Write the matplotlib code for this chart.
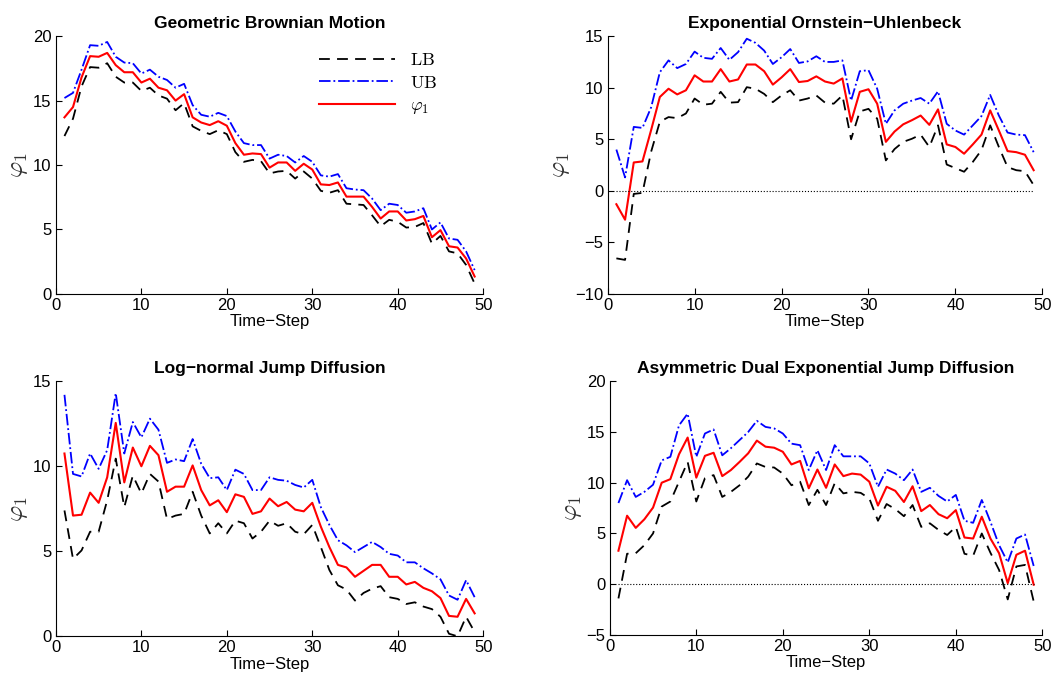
import matplotlib
matplotlib.use("Agg")
import matplotlib.pyplot as plt

plt.rcParams["font.family"] = ["Liberation Sans", "DejaVu Sans"]
plt.rcParams["mathtext.fontset"] = "cm"

steps = list(range(1, 50))

# Geometric Brownian Motion
gbm_lb = [12.25, 13.6, 16.1, 17.6, 17.55, 17.9, 16.85, 16.4, 16.4, 15.75, 16.0, 15.4, 15.15, 14.25,
          14.8, 13.0, 12.65, 12.4, 12.7, 12.4, 11.0, 10.25, 10.4, 10.3, 9.35, 9.5, 9.55, 8.95, 9.5,
          8.95, 8.0, 7.85, 8.05, 7.0, 6.95, 6.9, 6.1, 5.25, 5.75, 5.6, 5.15, 5.2, 5.5, 3.9, 4.5,
          3.3, 3.15, 2.25, 0.8]
gbm_ub = [15.2, 15.6, 17.4, 19.3, 19.25, 19.55, 18.4, 17.95, 17.9, 17.1, 17.4, 16.85, 16.6, 16.0,
          16.3, 14.65, 13.9, 13.75, 14.05, 13.8, 12.6, 11.7, 11.55, 11.55, 10.5, 10.8, 10.7, 10.2,
          10.7, 10.25, 9.2, 9.1, 9.3, 8.2, 8.1, 8.05, 7.4, 6.5, 7.0, 6.9, 6.3, 6.4, 6.65, 5.0, 5.55,
          4.3, 4.2, 3.3, 1.85]
gbm_phi = [13.7, 14.5, 16.8, 18.45, 18.4, 18.7, 17.75, 17.2, 17.2, 16.4, 16.7, 16.0, 15.8, 15.0,
           15.5, 13.7, 13.3, 13.1, 13.4, 13.05, 11.7, 10.8, 10.9, 10.85, 9.8, 10.2, 10.2, 9.55,
           10.1, 9.65, 8.5, 8.45, 8.65, 7.55, 7.55, 7.55, 6.75, 5.85, 6.4, 6.4, 5.7, 5.8, 6.05,
           4.4, 4.95, 3.7, 3.6, 2.75, 1.35]

# Exponential Ornstein-Uhlenbeck
eou_lb = [-6.55, -6.7, -0.3, -0.2, 3.8, 6.7, 7.15, 7.05, 7.5, 8.95, 8.35, 8.45, 9.6, 8.55, 8.6,
          10.05, 9.9, 9.4, 8.6, 9.25, 9.75, 8.75, 8.95, 9.25, 8.55, 8.45, 9.25, 5.0, 7.7, 7.95,
          7.0, 2.95, 4.05, 4.75, 5.05, 5.45, 4.25, 6.35, 2.55, 2.2, 1.85, 2.8, 3.95, 6.35, 4.25,
          2.3, 2.0, 1.9, 0.55]
eou_ub = [4.0, 1.3, 6.2, 6.1, 8.1, 11.5, 12.65, 11.9, 12.3, 13.5, 12.9, 12.8, 13.85, 12.7, 13.45,
          14.75, 14.35, 13.6, 12.3, 12.95, 13.75, 12.4, 12.55, 13.05, 12.5, 12.5, 12.65, 8.75,
          11.6, 11.7, 9.9, 6.5, 7.8, 8.45, 8.75, 9.0, 8.45, 9.65, 6.5, 5.85, 5.45, 6.35, 7.25, 9.3,
          7.3, 5.65, 5.45, 5.4, 3.75]
eou_phi = [-1.3, -2.8, 2.75, 2.85, 5.9, 9.1, 9.9, 9.35, 9.75, 11.2, 10.6, 10.6, 11.8, 10.6, 10.8,
           12.25, 12.25, 11.6, 10.3, 11.0, 11.8, 10.55, 10.65, 11.1, 10.6, 10.4, 10.9, 6.7, 9.6,
           9.85, 8.45, 4.75, 5.75, 6.45, 6.85, 7.3, 6.4, 7.9, 4.5, 4.25, 3.6, 4.5, 5.45, 7.8,
           5.85, 3.85, 3.75, 3.5, 2.0]

# Log-normal Jump Diffusion
ljd_lb = [7.4, 4.55, 5.05, 6.15, 6.15, 8.0, 10.45, 7.6, 9.45, 8.4, 9.55, 9.1, 6.9, 7.1, 7.2, 8.5,
          7.1, 6.05, 6.65, 6.05, 6.8, 6.65, 5.75, 6.15, 6.8, 6.5, 6.65, 6.15, 6.0, 6.55, 5.25,
          3.9, 3.0, 2.75, 2.1, 2.55, 2.8, 2.95, 2.3, 2.2, 1.9, 2.0, 1.75, 1.6, 1.15, 0.15, 0.0,
          1.15, 0.25]
ljd_ub = [14.2, 9.55, 9.4, 10.75, 9.85, 10.95, 14.3, 10.75, 12.6, 11.7, 12.8, 12.15, 10.2, 10.4,
          10.3, 11.6, 10.15, 9.3, 9.35, 8.6, 9.8, 9.55, 8.6, 8.6, 9.35, 9.2, 9.15, 8.9, 8.75, 9.2,
          7.6, 6.55, 5.65, 5.35, 4.95, 5.25, 5.55, 5.25, 4.85, 4.75, 4.35, 4.35, 4.0, 3.7, 3.35,
          2.4, 2.15, 3.3, 2.3]
ljd_phi = [10.75, 7.1, 7.15, 8.45, 7.85, 9.35, 12.55, 9.05, 11.1, 10.0, 11.2, 10.65, 8.5, 8.8,
           8.8, 10.05, 8.6, 7.7, 8.0, 7.3, 8.35, 8.2, 7.2, 7.35, 8.1, 7.65, 7.9, 7.45, 7.35, 7.85,
           6.45, 5.25, 4.2, 4.05, 3.5, 3.85, 4.2, 4.2, 3.5, 3.5, 3.05, 3.2, 2.85, 2.65, 2.25, 1.2,
           1.15, 2.2, 1.35]

# Asymmetric Dual Exponential Jump Diffusion
adj_lb = [-1.4, 3.0, 3.05, 3.85, 5.0, 7.65, 8.15, 10.1, 12.05, 8.15, 10.45, 10.75, 8.6, 9.1, 9.75,
          10.6, 11.9, 11.55, 11.5, 10.9, 9.75, 10.1, 7.8, 9.3, 7.8, 9.95, 8.95, 9.1, 9.0, 8.45,
          6.25, 7.9, 7.4, 6.7, 7.8, 5.65, 6.0, 5.35, 4.85, 5.65, 3.0, 2.8, 5.0, 3.1, 1.4, -1.5,
          1.75, 1.9, -1.7]
adj_ub = [8.0, 10.25, 8.6, 9.1, 9.8, 12.2, 12.55, 15.65, 16.8, 12.55, 14.85, 15.25, 12.7, 13.4,
          14.2, 15.0, 16.1, 15.5, 15.35, 14.85, 13.85, 13.7, 11.25, 13.2, 11.25, 13.7, 12.6, 12.6,
          12.6, 11.9, 9.6, 11.3, 10.9, 10.25, 11.3, 9.1, 9.5, 8.7, 8.15, 8.8, 6.25, 6.05, 8.3,
          6.15, 3.85, 2.15, 4.5, 4.9, 1.8]
adj_phi = [3.3, 6.75, 5.55, 6.4, 7.55, 10.0, 10.35, 12.8, 14.45, 10.5, 12.65, 12.95, 10.65, 11.25,
           12.05, 12.9, 14.15, 13.55, 13.45, 13.05, 11.8, 12.15, 9.45, 11.3, 9.5, 11.8, 10.65,
           10.9, 10.8, 10.1, 7.75, 9.6, 9.2, 8.1, 9.65, 7.2, 7.8, 6.9, 6.5, 7.3, 4.6, 4.5, 6.65,
           4.5, 3.05, 0.1, 2.9, 3.3, -0.05]

panels = [
    ("Geometric Brownian Motion", gbm_lb, gbm_ub, gbm_phi, (0, 20), False),
    ("Exponential Ornstein\u2212Uhlenbeck", eou_lb, eou_ub, eou_phi, (-10, 15), True),
    ("Log\u2212normal Jump Diffusion", ljd_lb, ljd_ub, ljd_phi, (0, 15), False),
    ("Asymmetric Dual Exponential Jump Diffusion", adj_lb, adj_ub, adj_phi, (-5, 20), True),
]

positions = [
    [0.053, 0.569, 0.405, 0.378],
    [0.576, 0.569, 0.412, 0.378],
    [0.053, 0.067, 0.405, 0.374],
    [0.578, 0.069, 0.410, 0.372],
]

fig = plt.figure(figsize=(10.55, 6.82), dpi=100)

for i, (title, lb, ub, phi, ylim, zero_line) in enumerate(panels):
    ax = fig.add_axes(positions[i])
    ax.plot(steps, lb, "k--", lw=1.3, dashes=(6, 4), label=r"$\mathrm{LB}$")
    ax.plot(steps, ub, "b-.", lw=1.3, label=r"$\mathrm{UB}$")
    ax.plot(steps, phi, "r-", lw=1.5, label=r"$\varphi_1$")
    if zero_line:
        ax.plot([1, 49], [0, 0], "k:", lw=0.8)
    ax.set_xlim(0, 50)
    ax.set_ylim(*ylim)
    ax.set_xticks(range(0, 51, 10))
    ax.set_yticks(range(ylim[0], ylim[1] + 1, 5))
    ax.spines["top"].set_visible(False)
    ax.spines["right"].set_visible(False)
    ax.tick_params(direction="in", labelsize=12, length=4, pad=3)
    ax.set_title(title, fontsize=12.5, fontweight="bold")
    ax.set_xlabel("Time\u2212Step", fontsize=12, labelpad=1)
    ax.set_ylabel(r"$\varphi_1$", fontsize=18, color="#333333", labelpad=2)
    if i == 0:
        ax.legend(loc="upper right", bbox_to_anchor=(0.93, 1.0), frameon=False,
                  fontsize=13, handlelength=4.2, labelspacing=0.3)

fig.savefig("out.png", dpi=100)
